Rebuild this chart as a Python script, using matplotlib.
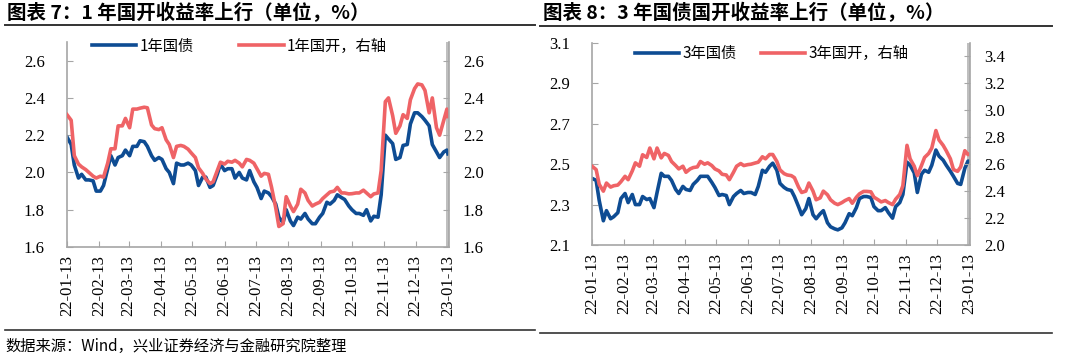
import matplotlib
matplotlib.use("Agg")
import matplotlib.pyplot as plt
import matplotlib.dates as mdates
from matplotlib.lines import Line2D
import pandas as pd

plt.rcParams['font.family'] = ['Noto Sans CJK SC', 'DejaVu Sans']

dates = pd.to_datetime([
    '2022-01-13', '2022-01-17', '2022-01-20', '2022-01-24', '2022-01-27', '2022-01-31',
    '2022-02-03', '2022-02-07', '2022-02-10', '2022-02-14', '2022-02-17', '2022-02-21', '2022-02-24', '2022-02-28',
    '2022-03-03', '2022-03-07', '2022-03-10', '2022-03-14', '2022-03-17', '2022-03-21', '2022-03-24', '2022-03-28', '2022-03-31',
    '2022-04-04', '2022-04-07', '2022-04-11', '2022-04-14', '2022-04-18', '2022-04-21', '2022-04-25', '2022-04-28',
    '2022-05-02', '2022-05-05', '2022-05-09', '2022-05-12', '2022-05-16', '2022-05-19', '2022-05-23', '2022-05-26', '2022-05-30',
    '2022-06-02', '2022-06-06', '2022-06-09', '2022-06-13', '2022-06-16', '2022-06-20', '2022-06-23', '2022-06-27', '2022-06-30',
    '2022-07-04', '2022-07-07', '2022-07-11', '2022-07-14', '2022-07-18', '2022-07-21', '2022-07-25', '2022-07-28',
    '2022-08-01', '2022-08-04', '2022-08-08', '2022-08-11', '2022-08-15', '2022-08-18', '2022-08-22', '2022-08-25', '2022-08-29',
    '2022-09-01', '2022-09-05', '2022-09-08', '2022-09-12', '2022-09-15', '2022-09-19', '2022-09-22', '2022-09-26', '2022-09-29',
    '2022-10-03', '2022-10-06', '2022-10-10', '2022-10-13', '2022-10-17', '2022-10-20', '2022-10-24', '2022-10-27', '2022-10-31',
    '2022-11-03', '2022-11-07', '2022-11-10', '2022-11-14', '2022-11-17', '2022-11-21', '2022-11-24', '2022-11-28',
    '2022-12-01', '2022-12-05', '2022-12-08', '2022-12-12', '2022-12-15', '2022-12-19', '2022-12-22', '2022-12-26', '2022-12-29',
    '2023-01-02', '2023-01-05', '2023-01-09', '2023-01-12', '2023-01-13',
])

# 1年国债 (left axis)
y1_gz = [
    2.19, 2.15, 2.04, 1.97, 1.99, 1.96,
    1.96, 1.955, 1.90, 1.90, 1.93, 2.02, 2.09, 2.04,
    2.08, 2.09, 2.12, 2.09, 2.14, 2.14, 2.17, 2.165, 2.14,
    2.09, 2.065, 2.08, 2.07, 2.02, 2.00, 1.94, 2.05,
    2.04, 2.04, 2.05, 2.04, 2.01, 1.93, 1.975, 1.975, 1.92,
    1.93, 1.99, 2.045, 2.01, 2.02, 2.02, 1.97, 2.00, 1.97,
    1.96, 2.01, 1.95, 1.92, 1.86, 1.90, 1.89, 1.87,
    1.83, 1.76, 1.73, 1.80, 1.74, 1.715, 1.76, 1.75, 1.78,
    1.75, 1.725, 1.725, 1.76, 1.78, 1.84, 1.83, 1.85, 1.88,
    1.865, 1.855, 1.82, 1.80, 1.78, 1.78, 1.77, 1.80, 1.74,
    1.765, 1.76, 1.88, 2.20, 2.18, 2.155, 2.07, 2.08,
    2.145, 2.15, 2.26, 2.32, 2.32, 2.30, 2.28, 2.25, 2.15,
    2.11, 2.08, 2.11, 2.12, 2.10,
]

# 1年国开 (right axis)
y1_gk = [
    2.31, 2.28, 2.09, 2.045, 2.03, 2.015,
    2.00, 1.98, 1.97, 1.98, 1.975, 2.05, 2.127, 2.127,
    2.25, 2.25, 2.29, 2.24, 2.34, 2.34, 2.345, 2.35, 2.347,
    2.255, 2.235, 2.23, 2.24, 2.175, 2.15, 2.08, 2.14,
    2.145, 2.14, 2.125, 2.105, 2.08, 2.025, 1.995, 1.965, 1.94,
    1.95, 2.01, 2.055, 2.045, 2.06, 2.055, 2.065, 2.05, 2.03,
    2.07, 2.065, 2.05, 2.02, 1.98, 1.995, 1.99, 1.92,
    1.81, 1.71, 1.725, 1.87, 1.82, 1.79, 1.83, 1.91, 1.89,
    1.85, 1.82, 1.83, 1.84, 1.86, 1.88, 1.895, 1.90, 1.92,
    1.89, 1.89, 1.885, 1.886, 1.89, 1.89, 1.905, 1.89, 1.87,
    1.885, 1.89, 2.01, 2.38, 2.40, 2.305, 2.21, 2.25,
    2.31, 2.29, 2.39, 2.45, 2.475, 2.47, 2.44, 2.32, 2.40,
    2.24, 2.20, 2.28, 2.34, 2.30,
]

# 3年国债 (left axis)
y3_gz = [
    2.43, 2.42, 2.32, 2.22, 2.27, 2.23,
    2.24, 2.26, 2.33, 2.355, 2.31, 2.35, 2.30, 2.30,
    2.34, 2.325, 2.33, 2.285, 2.36, 2.455, 2.44, 2.44, 2.42,
    2.375, 2.355, 2.39, 2.375, 2.37, 2.40, 2.42, 2.44,
    2.44, 2.44, 2.41, 2.385, 2.345, 2.35, 2.345, 2.30, 2.34,
    2.355, 2.37, 2.355, 2.36, 2.36, 2.35, 2.39, 2.47, 2.46,
    2.49, 2.505, 2.47, 2.405, 2.385, 2.375, 2.37, 2.34,
    2.29, 2.25, 2.28, 2.33, 2.25, 2.23, 2.255, 2.27, 2.21,
    2.19, 2.18, 2.175, 2.185, 2.21, 2.255, 2.245, 2.285, 2.33,
    2.34, 2.34, 2.335, 2.29, 2.27, 2.27, 2.285, 2.26, 2.233,
    2.29, 2.31, 2.35, 2.51, 2.495, 2.457, 2.36, 2.45,
    2.47, 2.46, 2.495, 2.57, 2.54, 2.52, 2.495, 2.465, 2.44,
    2.405, 2.40, 2.48, 2.515, 2.515,
]

# 3年国开 (right axis)
y3_gk = [
    2.585, 2.56, 2.45, 2.40, 2.46, 2.43,
    2.44, 2.445, 2.47, 2.51, 2.485, 2.55, 2.61, 2.585,
    2.67, 2.65, 2.72, 2.64, 2.72, 2.647, 2.68, 2.665, 2.62,
    2.59, 2.565, 2.585, 2.54, 2.565, 2.575, 2.58, 2.62,
    2.60, 2.61, 2.59, 2.565, 2.55, 2.525, 2.52, 2.485, 2.54,
    2.585, 2.605, 2.59, 2.597, 2.60, 2.609, 2.615, 2.655, 2.64,
    2.672, 2.672, 2.62, 2.558, 2.53, 2.52, 2.515, 2.50,
    2.43, 2.39, 2.40, 2.46, 2.40, 2.336, 2.35, 2.40, 2.373,
    2.335, 2.31, 2.30, 2.315, 2.33, 2.345, 2.31, 2.355, 2.38,
    2.398, 2.398, 2.395, 2.355, 2.336, 2.32, 2.33, 2.315, 2.30,
    2.34, 2.375, 2.44, 2.74, 2.64, 2.585, 2.515, 2.59,
    2.65, 2.68, 2.72, 2.85, 2.78, 2.74, 2.70, 2.64, 2.56,
    2.547, 2.58, 2.70, 2.672, 2.672,
]

tick_dates = pd.to_datetime([
    '2022-01-13', '2022-02-13', '2022-03-13', '2022-04-13', '2022-05-13', '2022-06-13', '2022-07-13',
    '2022-08-13', '2022-09-13', '2022-10-13', '2022-11-13', '2022-12-13', '2023-01-13',
])
band_start = pd.Timestamp('2023-01-11')
x_end = pd.Timestamp('2023-01-14')

BLUE = '#0E4C93'
RED = '#EF6366'
AXGREY = '#A6A6A6'
NUM_FONT = 'Liberation Serif'


def draw_panel(fig, rect, s_left, s_right, lab_left, lab_right,
               ylim_l, yt_l, ylim_r, yt_r, leg_xy, colspace):
    ax = fig.add_axes(rect)
    ax2 = ax.twinx()

    ax.axvspan(band_start, x_end, color='#BFBFBF', lw=0, zorder=0)
    l1, = ax.plot(dates, s_left, color=BLUE, lw=2.6, label=lab_left, solid_joinstyle='round')
    l2, = ax2.plot(dates, s_right, color=RED, lw=2.6, label=lab_right, solid_joinstyle='round')

    ax.set_xlim(dates[0], x_end)
    ax.set_xticks(tick_dates)
    ax.xaxis.set_major_formatter(mdates.DateFormatter('%y-%m-%d'))
    ax.tick_params(axis='x', direction='in', length=4, color=AXGREY, rotation=90,
                   labelsize=12, labelfontfamily=NUM_FONT, pad=6)

    ax.set_ylim(*ylim_l)
    ax.set_yticks(yt_l)
    ax.set_yticklabels([f'{v:.1f}' for v in yt_l])
    ax.tick_params(axis='y', direction='in', length=4, color=AXGREY,
                   labelsize=12, labelfontfamily=NUM_FONT, pad=16)

    ax2.set_ylim(*ylim_r)
    ax2.set_yticks(yt_r)
    ax2.set_yticklabels([f'{v:.1f}' for v in yt_r])
    ax2.tick_params(axis='y', direction='in', length=4, color=AXGREY,
                    labelsize=12, labelfontfamily=NUM_FONT, pad=10)

    for a in (ax, ax2):
        a.spines['top'].set_visible(False)
        for s in ('left', 'bottom', 'right'):
            a.spines[s].set_color(AXGREY)
            a.spines[s].set_linewidth(1.2)
    ax.spines['right'].set_visible(False)
    ax2.spines['left'].set_visible(False)
    ax2.spines['bottom'].set_visible(False)

    ax2.legend([l1, l2], [lab_left, lab_right], loc='center left', bbox_to_anchor=leg_xy,
               ncol=2, frameon=False, fontsize=11, handlelength=2.9, handletextpad=0.2,
               columnspacing=colspace, borderpad=0, borderaxespad=0)
    return ax, ax2


fig = plt.figure(figsize=(10.8, 3.55), dpi=100)

draw_panel(fig, [67 / 1080, 108 / 355, 382 / 1080, 205 / 355], y1_gz, y1_gk,
           '1年国债', '1年国开，右轴',
           (1.6, 2.7), [1.6, 1.8, 2.0, 2.2, 2.4, 2.6],
           (1.6, 2.7), [1.6, 1.8, 2.0, 2.2, 2.4, 2.6],
           (0.065, 0.98), 3.0)

draw_panel(fig, [592 / 1080, 110 / 355, 378 / 1080, 202 / 355], y3_gz, y3_gk,
           '3年国债', '3年国开，右轴',
           (2.1, 3.1), [2.1, 2.3, 2.5, 2.7, 2.9, 3.1],
           (2.0, 3.5), [2.0, 2.2, 2.4, 2.6, 2.8, 3.0, 3.2, 3.4],
           (0.114, 0.947), 1.6)

# titles with rule underneath
fig.text(7 / 1080, 1 - 13 / 355, '图表 7：1 年国开收益率上行（单位，%）',
         fontsize=14, fontweight='bold', va='center', ha='left')
fig.text(543 / 1080, 1 - 13 / 355, '图表 8：3 年国债国开收益率上行（单位，%）',
         fontsize=14, fontweight='bold', va='center', ha='left')
fig.add_artist(Line2D([5 / 1080, 535 / 1080], [1 - 25 / 355, 1 - 25 / 355],
                      transform=fig.transFigure, color='#333333', lw=1.4))
fig.add_artist(Line2D([540 / 1080, 1052 / 1080], [1 - 26 / 355, 1 - 26 / 355],
                      transform=fig.transFigure, color='#333333', lw=1.4))

# bottom rules and source note
fig.add_artist(Line2D([5 / 1080, 535 / 1080], [1 - 330 / 355, 1 - 330 / 355],
                      transform=fig.transFigure, color='#333333', lw=1.2))
fig.add_artist(Line2D([540 / 1080, 1052 / 1080], [1 - 333 / 355, 1 - 333 / 355],
                      transform=fig.transFigure, color='#333333', lw=1.2))
fig.text(5 / 1080, 9 / 355, '数据来源：Wind，兴业证券经济与金融研究院整理',
         fontsize=11, va='center', ha='left')

fig.savefig('out.png', dpi=100)
